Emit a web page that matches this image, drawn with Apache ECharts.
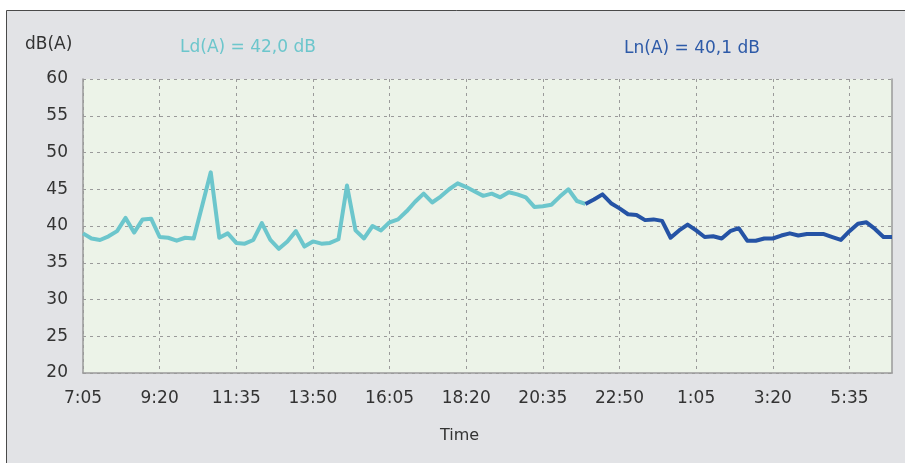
<!DOCTYPE html>
<html>
<head>
<meta charset="utf-8">
<title>Ld / Ln</title>
<script src="https://cdn.jsdelivr.net/npm/echarts@6/dist/echarts.min.js"></script>
<style>
  html, body { margin: 0; padding: 0; background: #ffffff; }
  #chart { width: 905px; height: 463px; }
</style>
</head>
<body>
<div id="chart"></div>
<script>
// time axis, one sample every 15 minutes
const times = [
  '7:05', '7:20', '7:35', '7:50', '8:05', '8:20', '8:35', '8:50', '9:05',
  '9:20', '9:35', '9:50', '10:05', '10:20', '10:35', '10:50', '11:05', '11:20',
  '11:35', '11:50', '12:05', '12:20', '12:35', '12:50', '13:05', '13:20', '13:35',
  '13:50', '14:05', '14:20', '14:35', '14:50', '15:05', '15:20', '15:35', '15:50',
  '16:05', '16:20', '16:35', '16:50', '17:05', '17:20', '17:35', '17:50', '18:05',
  '18:20', '18:35', '18:50', '19:05', '19:20', '19:35', '19:50', '20:05', '20:20',
  '20:35', '20:50', '21:05', '21:20', '21:35', '21:50', '22:05', '22:20', '22:35',
  '22:50', '23:05', '23:20', '23:35', '23:50', '0:05', '0:20', '0:35', '0:50',
  '1:05', '1:20', '1:35', '1:50', '2:05', '2:20', '2:35', '2:50', '3:05',
  '3:20', '3:35', '3:50', '4:05', '4:20', '4:35', '4:50', '5:05', '5:20',
  '5:35', '5:50', '6:05', '6:20', '6:35', '6:50'
];

// day period (7:05 - 21:50)
const ldValues = [
  39.0, 38.3, 38.1, 38.6, 39.3, 41.1, 39.1, 40.9, 41.0, 38.5,
  38.4, 38.0, 38.4, 38.3, 42.8, 47.3, 38.4, 39.0, 37.7, 37.6,
  38.1, 40.4, 38.1, 36.9, 37.9, 39.3, 37.2, 37.9, 37.6, 37.7,
  38.2, 45.5, 39.4, 38.3, 40.0, 39.4, 40.5, 40.9, 42.0, 43.3,
  44.4, 43.2, 44.0, 45.0, 45.8, 45.3, 44.7, 44.1, 44.4, 43.9,
  44.6, 44.3, 43.9, 42.6, 42.7, 42.9, 44.0, 45.0, 43.4, 43.0
];

// night period (21:50 - 6:50)
const lnValues = [
  43.0, 43.6, 44.3, 43.1, 42.4, 41.6, 41.5, 40.8, 40.9, 40.7,
  38.4, 39.4, 40.2, 39.4, 38.5, 38.6, 38.3, 39.3, 39.7, 38.0,
  38.0, 38.3, 38.3, 38.7, 39.0, 38.7, 38.9, 38.9, 38.9, 38.5,
  38.1, 39.3, 40.3, 40.5, 39.6, 38.5, 38.5
];

const ldLabel = 'Ld(A) = 42,0 dB';
const lnLabel = 'Ln(A) = 40,1 dB';

// place each period on the shared time axis
const ldData = times.map((t, i) => (i < ldValues.length ? ldValues[i] : null));
const lnStart = ldValues.length - 1;
const lnData = times.map((t, i) => (i >= lnStart ? lnValues[i - lnStart] : null));

const font = 'DejaVu Sans';
const chart = echarts.init(document.getElementById('chart'));

const option = {
  backgroundColor: '#ffffff',
  animation: false,
  graphic: [
    {
      // grey panel with dark frame
      type: 'rect',
      z: -10,
      shape: { x: 6.5, y: 10.5, width: 910, height: 470 },
      style: { fill: '#e2e3e6', stroke: '#4a4a4a', lineWidth: 1 }
    }
  ],
  title: [
    { text: 'dB(A)', left: 25, top: 36, padding: 0,
      textStyle: { fontFamily: font, fontSize: 17, fontWeight: 'normal', color: '#333333' } },
    { text: ldLabel, left: 180, top: 39, padding: 0,
      textStyle: { fontFamily: font, fontSize: 17, fontWeight: 'normal', color: '#6cc6cc' } },
    { text: lnLabel, left: 624, top: 40, padding: 0,
      textStyle: { fontFamily: font, fontSize: 17, fontWeight: 'normal', color: '#2d5aa8' } },
    { text: 'Time', left: 440, top: 428, padding: 0,
      textStyle: { fontFamily: font, fontSize: 16, fontWeight: 'normal', color: '#333333' } }
  ],
  grid: {
    left: 83,
    right: 13,
    top: 79,
    bottom: 90,
    show: true,
    backgroundColor: '#ecf3e8',
    borderWidth: 0
  },
  xAxis: {
    type: 'category',
    data: times,
    boundaryGap: false,
    axisLine: { lineStyle: { color: '#9a9a9a', width: 1.5 } },
    axisTick: { show: false },
    axisLabel: {
      interval: 8,
      margin: 17,
      color: '#333333',
      fontFamily: font,
      fontSize: 17
    },
    splitLine: {
      show: true,
      interval: 8,
      lineStyle: { color: '#9a9a9a', type: [3, 4] }
    }
  },
  yAxis: [
    {
      type: 'value',
      min: 20,
      max: 60,
      interval: 5,
      axisLine: { show: true, lineStyle: { color: '#9a9a9a', width: 1.5 } },
      axisTick: { show: false },
      axisLabel: { margin: 15, color: '#333333', fontFamily: font, fontSize: 17 },
      splitLine: { lineStyle: { color: '#9a9a9a', type: [3, 4] } }
    },
    {
      // right frame of the plot
      type: 'value',
      position: 'right',
      min: 20,
      max: 60,
      interval: 5,
      axisLine: { show: true, lineStyle: { color: '#9a9a9a', width: 1.5 } },
      axisTick: { show: false },
      axisLabel: { show: false },
      splitLine: { show: false }
    }
  ],
  series: [
    {
      name: 'Ld',
      type: 'line',
      data: ldData,
      showSymbol: false,
      lineStyle: { color: '#6cc6cc', width: 4, join: 'round' }
    },
    {
      name: 'Ln',
      type: 'line',
      data: lnData,
      showSymbol: false,
      lineStyle: { color: '#2553a5', width: 4, join: 'round' }
    }
  ]
};

chart.setOption(option);
</script>
</body>
</html>
